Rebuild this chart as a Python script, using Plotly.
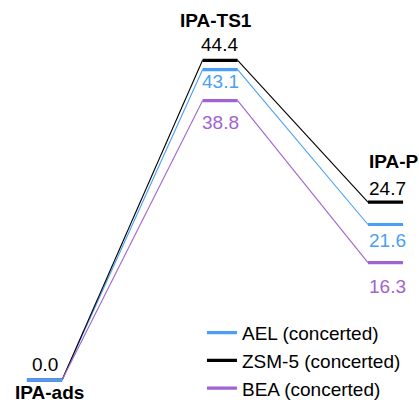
import plotly.graph_objects as go

states = ["IPA-ads", "IPA-TS1", "IPA-P"]
series_names = ["AEL (concerted)", "ZSM-5 (concerted)", "BEA (concerted)"]
ael = [0.0, 43.1, 21.6]
zsm5 = [0.0, 44.4, 24.7]
bea = [0.0, 38.8, 16.3]

colors = {"AEL (concerted)": "#4a9ff5", "ZSM-5 (concerted)": "#000000", "BEA (concerted)": "#a064d2"}
values = {"AEL (concerted)": ael, "ZSM-5 (concerted)": zsm5, "BEA (concerted)": bea}
ranks = {"AEL (concerted)": 1, "ZSM-5 (concerted)": 2, "BEA (concerted)": 3}

STATE_POS = [0, 1.03, 2]  # horizontal placement of the states (layout)
HW = 0.103  # half width of level bars (x units)
FONT = "Liberation Sans, Arial, Helvetica, sans-serif"

fig = go.Figure()

# connectors
for name in series_names:
    v = values[name]
    xs, ys = [], []
    for i in range(len(v) - 1):
        xs += [STATE_POS[i] + HW, STATE_POS[i + 1] - HW, None]
        ys += [v[i], v[i + 1], None]
    fig.add_trace(go.Scatter(x=xs, y=ys, mode="lines", showlegend=False,
                             line=dict(color=colors[name], width=1.1), hoverinfo="skip"))

# level bars (draw order so that AEL sits on top at zero)
for name in ["ZSM-5 (concerted)", "BEA (concerted)", "AEL (concerted)"]:
    v = values[name]
    xs, ys = [], []
    for i in range(len(v)):
        xs += [STATE_POS[i] - HW, STATE_POS[i] + HW, None]
        ys += [v[i], v[i], None]
    fig.add_trace(go.Scatter(x=xs, y=ys, mode="lines", name=name, legendrank=ranks[name],
                             line=dict(color=colors[name], width=3.2)))

ann = []
def label(i, y, text, color, dy, dx=0, bold=False, size=19):
    ann.append(dict(x=STATE_POS[i], y=y, text=("<b>%s</b>" % text) if bold else text, showarrow=False,
                    xshift=dx, yshift=dy, font=dict(family=FONT, size=size, color=color),
                    xanchor="center", yanchor="middle"))

# state labels
label(0, zsm5[0], states[0], "black", -12, 5, True, 19)
label(1, zsm5[1], states[1], "black", 40, -4, True, 19)
label(2, zsm5[2], states[2], "black", 41, 8, True, 19)

# value labels
label(0, zsm5[0], "%.1f" % zsm5[0], "black", 16, 0)
label(1, zsm5[1], "%.1f" % zsm5[1], "black", 16, -1)
label(1, ael[1], "%.1f" % ael[1], colors["AEL (concerted)"], -12, 0)
label(1, bea[1], "%.1f" % bea[1], colors["BEA (concerted)"], -22, 0)
label(2, zsm5[2], "%.1f" % zsm5[2], "black", 14, 2)
label(2, ael[2], "%.1f" % ael[2], colors["AEL (concerted)"], -16, 2)
label(2, bea[2], "%.1f" % bea[2], colors["BEA (concerted)"], -24, 2)

fig.update_layout(
    width=419, height=403,
    margin=dict(l=0, r=0, t=0, b=0, autoexpand=False),
    paper_bgcolor="white", plot_bgcolor="white",
    xaxis=dict(range=[-0.261, 2.1965], visible=False, fixedrange=True),
    yaxis=dict(range=[-3.19, 52.78], visible=False, fixedrange=True),
    annotations=ann,
    showlegend=True,
    legend=dict(x=0.482, y=-0.012, xanchor="left", yanchor="bottom",
                font=dict(family=FONT, size=19, color="black"),
                bgcolor="rgba(0,0,0,0)", tracegroupgap=0),
)

fig.write_html("out.html", config={"displayModeBar": False})

# remove the default page margin so the figure sits at the window's top-left corner
with open("out.html", "r", encoding="utf-8") as f:
    html = f.read()
html = html.replace("<head>", "<head><style>html,body{margin:0;padding:0;overflow:hidden}</style>", 1)
with open("out.html", "w", encoding="utf-8") as f:
    f.write(html)
